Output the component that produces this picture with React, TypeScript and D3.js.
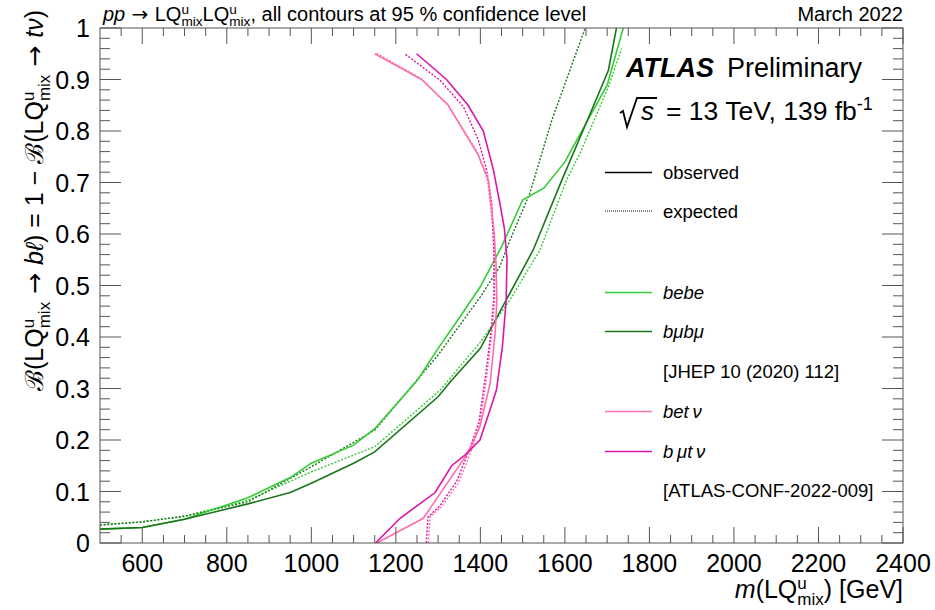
import React from 'react';
import * as d3 from 'd3';

const W = 935;
const H = 610;
const FONT = '"Liberation Sans", Arial, Helvetica, sans-serif';
const ARROW_FONT = '"DejaVu Sans", sans-serif';

// Plot frame in pixels
const X0 = 100;
const X1 = 903;
const Y0 = 543;
const Y1 = 28;

// Axis definitions
const massDomain: [number, number] = [500, 2400];
const brDomain: [number, number] = [0, 1];
const massMajorTicks = [600, 800, 1000, 1200, 1400, 1600, 1800, 2000, 2200, 2400];
const massMinorStep = 50;
const brMajorTicks = [0, 0.1, 0.2, 0.3, 0.4, 0.5, 0.6, 0.7, 0.8, 0.9, 1];
const brTickLabels = ['0', '0.1', '0.2', '0.3', '0.4', '0.5', '0.6', '0.7', '0.8', '0.9', '1'];
const brMinorStep = 0.02;

type Pt = [number, number];

// 95% CL exclusion contours: [mass (GeV), B(LQ -> b l)]
const bebeObserved: Pt[] = [
  [500, 0.027], [600, 0.030], [700, 0.046], [750, 0.060], [850, 0.088], [950, 0.127],
  [1000, 0.155], [1100, 0.190], [1150, 0.222], [1250, 0.315], [1300, 0.378], [1350, 0.437],
  [1400, 0.498], [1450, 0.575], [1500, 0.666], [1550, 0.689], [1600, 0.740], [1650, 0.815],
  [1700, 0.889], [1738, 1.0],
];
const bebeExpected: Pt[] = [
  [500, 0.035], [600, 0.041], [700, 0.052], [850, 0.083], [1000, 0.138], [1150, 0.187],
  [1305, 0.297], [1400, 0.390], [1470, 0.472], [1541, 0.569], [1604, 0.705], [1636, 0.757],
  [1703, 0.886], [1734, 0.960],
];
const bmubmuObserved: Pt[] = [
  [500, 0.027], [600, 0.030], [700, 0.046], [850, 0.076], [950, 0.098], [1000, 0.116],
  [1100, 0.155], [1150, 0.177], [1300, 0.284], [1330, 0.314], [1400, 0.378], [1460, 0.470],
  [1525, 0.569], [1593, 0.705], [1660, 0.834], [1703, 0.918], [1722, 1.0],
];
const bmubmuExpected: Pt[] = [
  [500, 0.035], [600, 0.041], [700, 0.052], [850, 0.080], [1000, 0.148], [1150, 0.219],
  [1300, 0.365], [1400, 0.478], [1446, 0.537], [1470, 0.588], [1517, 0.679], [1569, 0.821],
  [1648, 1.0],
];
const betnuObserved: Pt[] = [
  [1155, 0], [1265, 0.048], [1372, 0.177], [1399, 0.226], [1423, 0.310], [1435, 0.407],
  [1439, 0.472], [1437, 0.544], [1432, 0.608], [1419, 0.705], [1395, 0.753], [1324, 0.850],
  [1261, 0.900], [1150, 0.950],
];
const betnuExpected: Pt[] = [
  [1277, 0], [1281, 0.051], [1308, 0.070], [1348, 0.116], [1379, 0.180], [1399, 0.232],
  [1415, 0.323], [1427, 0.407], [1434, 0.472], [1434, 0.540], [1430, 0.610], [1417, 0.705],
  [1392, 0.760], [1322, 0.852], [1259, 0.902], [1152, 0.952],
];
const bmutnuObserved: Pt[] = [
  [1152, 0], [1210, 0.048], [1293, 0.098], [1332, 0.150], [1364, 0.171], [1399, 0.200],
  [1419, 0.249], [1438, 0.297], [1452, 0.380], [1461, 0.470], [1463, 0.550], [1457, 0.610],
  [1446, 0.660], [1431, 0.724], [1407, 0.800], [1371, 0.850], [1320, 0.900], [1249, 0.950],
];
const bmutnuExpected: Pt[] = [
  [1272, 0], [1276, 0.050], [1304, 0.072], [1344, 0.120], [1376, 0.186], [1397, 0.236],
  [1413, 0.330], [1425, 0.410], [1432, 0.480], [1432, 0.560], [1427, 0.660], [1415, 0.724],
  [1395, 0.783], [1360, 0.847], [1304, 0.899], [1221, 0.950],
];

const GREEN_LIGHT = '#34cc34';
const GREEN_DARK = '#1a761a';
const PINK = '#ff6fae';
const MAGENTA = '#dc14aa';
const DOT = '2,1.6';

const curves = [
  { id: 'bebe-exp', data: bebeExpected, color: GREEN_LIGHT, dotted: true },
  { id: 'bmubmu-exp', data: bmubmuExpected, color: GREEN_DARK, dotted: true },
  { id: 'bebe-obs', data: bebeObserved, color: GREEN_LIGHT, dotted: false },
  { id: 'bmubmu-obs', data: bmubmuObserved, color: GREEN_DARK, dotted: false },
  { id: 'betnu-exp', data: betnuExpected, color: PINK, dotted: true },
  { id: 'bmutnu-exp', data: bmutnuExpected, color: MAGENTA, dotted: true },
  { id: 'betnu-obs', data: betnuObserved, color: PINK, dotted: false },
  { id: 'bmutnu-obs', data: bmutnuObserved, color: MAGENTA, dotted: false },
];

// "LQ" with a stacked superscript "u" and subscript "mix".
// `lead` shifts the baseline before "LQ" (to undo a previous subscript),
// `after` is text set back on the normal baseline.
function LQ({ size, lead = 0, after }: { size: number; lead?: number; after?: string }) {
  const small = size * 0.68;
  const up = size * 0.36;
  const down = size * 0.26;
  const uWidth = small * 0.556;
  return (
    <>
      <tspan dy={lead}>LQ</tspan>
      <tspan fontSize={small} dy={-up}>u</tspan>
      <tspan fontSize={small} dx={-uWidth} dy={up + down}>mix</tspan>
      {after !== undefined && (
        <tspan fontSize={size} dy={-down}>
          {after}
        </tspan>
      )}
    </>
  );
}

// Arrow glyph taken from a font with a full-width arrow
function Arrow({ dy = 0 }: { dy?: number }) {
  return (
    <tspan fontFamily={ARROW_FONT} dy={dy}>
      {' \u2192 '}
    </tspan>
  );
}

export default function App() {
  const x = d3.scaleLinear().domain(massDomain).range([X0, X1]);
  const y = d3.scaleLinear().domain(brDomain).range([Y0, Y1]);
  const line = d3
    .line<Pt>()
    .x((d) => x(d[0]))
    .y((d) => y(d[1]));

  const massMinor = d3
    .range(massDomain[0] + massMinorStep, massDomain[1], massMinorStep)
    .filter((m) => !massMajorTicks.includes(m));
  const brMinor = d3
    .range(1, 50)
    .map((i) => i * brMinorStep)
    .filter((b) => Math.abs(b * 10 - Math.round(b * 10)) > 1e-6);

  const tickColor = '#555';

  const legendEntries = [
    { label: 'observed', color: '#000', dotted: false, italic: false, yc: 172.5 },
    { label: 'expected', color: '#000', dotted: true, italic: false, yc: 211 },
    { label: 'bebe', color: GREEN_LIGHT, dotted: false, italic: true, yc: 292.5 },
    { label: 'b\u03BCb\u03BC', color: GREEN_DARK, dotted: false, italic: true, yc: 331.5 },
    { label: '[JHEP 10 (2020) 112]', color: null, dotted: false, italic: false, yc: 371.5 },
    { label: 'bet\u2009\u03BD', color: PINK, dotted: false, italic: true, yc: 411.5 },
    { label: 'b\u2009\u03BCt\u2009\u03BD', color: MAGENTA, dotted: false, italic: true, yc: 451.5 },
    { label: '[ATLAS-CONF-2022-009]', color: null, dotted: false, italic: false, yc: 490.5 },
  ];

  const sub25 = 25 * 0.26;

  return (
    <svg
      width={W}
      height={H}
      viewBox={`0 0 ${W} ${H}`}
      style={{ position: 'absolute', left: 0, top: 0, background: '#fff' }}
      fontFamily={FONT}
    >
      <rect x={0} y={0} width={W} height={H} fill="#fff" />
      <defs>
        <clipPath id="plot-area">
          <rect x={X0} y={Y1} width={X1 - X0} height={Y0 - Y1} />
        </clipPath>
      </defs>

      {/* contours */}
      <g clipPath="url(#plot-area)" fill="none">
        {curves.map((c) => (
          <path
            key={c.id}
            d={line(c.data) ?? ''}
            stroke={c.color}
            strokeWidth={c.dotted ? 1.4 : 1.6}
            strokeDasharray={c.dotted ? DOT : undefined}
          />
        ))}
      </g>

      {/* frame */}
      <rect x={X0} y={Y1} width={X1 - X0} height={Y0 - Y1} fill="none" stroke={tickColor} strokeWidth={1} />

      {/* ticks on all four sides */}
      <g stroke={tickColor} strokeWidth={1}>
        {massMajorTicks.map((m) => (
          <g key={`xM${m}`}>
            <line x1={x(m)} x2={x(m)} y1={Y0} y2={Y0 - 16} />
            <line x1={x(m)} x2={x(m)} y1={Y1} y2={Y1 + 16} />
          </g>
        ))}
        {massMinor.map((m) => (
          <g key={`xm${m}`}>
            <line x1={x(m)} x2={x(m)} y1={Y0} y2={Y0 - 8} />
            <line x1={x(m)} x2={x(m)} y1={Y1} y2={Y1 + 8} />
          </g>
        ))}
        {brMajorTicks.map((b) => (
          <g key={`yM${b}`}>
            <line x1={X0} x2={X0 + 21} y1={y(b)} y2={y(b)} />
            <line x1={X1} x2={X1 - 21} y1={y(b)} y2={y(b)} />
          </g>
        ))}
        {brMinor.map((b) => (
          <g key={`ym${b}`}>
            <line x1={X0} x2={X0 + 10} y1={y(b)} y2={y(b)} />
            <line x1={X1} x2={X1 - 10} y1={y(b)} y2={y(b)} />
          </g>
        ))}
      </g>

      {/* tick labels */}
      <g fontSize={25} fill="#000">
        {massMajorTicks.map((m) => (
          <text key={`xl${m}`} x={x(m)} y={572} textAnchor="middle">
            {m}
          </text>
        ))}
        {brMajorTicks.map((b, i) => (
          <text key={`yl${b}`} x={90} y={y(b) + 9} textAnchor="end">
            {brTickLabels[i]}
          </text>
        ))}
      </g>

      {/* axis titles */}
      <text x={X1} y={598} textAnchor="end" fontSize={25}>
        <tspan fontStyle="italic">m</tspan>
        <tspan>(</tspan>
        <LQ size={25} after=") [GeV]" />
      </text>
      <text transform="translate(43,10) rotate(-90)" textAnchor="end" fontSize={25}>
        <tspan>{'\u212C('}</tspan>
        <LQ size={25} />
        <Arrow dy={-sub25} />
        <tspan fontStyle="italic">{'b\u2113'}</tspan>
        <tspan>{') = 1 \u2212 \u212C('}</tspan>
        <LQ size={25} />
        <Arrow dy={-sub25} />
        <tspan fontStyle="italic">{'t\u03BD'}</tspan>
        <tspan>)</tspan>
      </text>

      {/* header */}
      <text x={103} y={21} fontSize={20}>
        <tspan fontStyle="italic">pp</tspan>
        <Arrow />
        <LQ size={20} />
        <LQ size={20} lead={-20 * 0.26} after=", all contours at 95 % confidence level" />
      </text>
      <text x={X1} y={21} fontSize={20} textAnchor="end">
        March 2022
      </text>

      {/* experiment label */}
      <text x={626} y={77} fontSize={27} fontWeight="bold" fontStyle="italic">
        ATLAS
      </text>
      <text x={727} y={77} fontSize={27}>
        Preliminary
      </text>
      <path d="M620,113 L623,111 L627,127 L637,98 L657,98" fill="none" stroke="#000" strokeWidth={1.8} />
      <text x={641} y={120} fontSize={26} fontStyle="italic">
        s
      </text>
      <text x={666} y={120} fontSize={26.5}>
        <tspan>= 13 TeV, 139 fb</tspan>
        <tspan fontSize={18} dy={-10}>-1</tspan>
      </text>

      {/* legend */}
      <g fontSize={18.5}>
        {legendEntries.map((e) => (
          <g key={e.label}>
            {e.color && (
              <line
                x1={605}
                x2={652}
                y1={e.yc}
                y2={e.yc}
                stroke={e.color}
                strokeWidth={e.dotted ? 1 : 1.4}
                strokeDasharray={e.dotted ? '1,1' : undefined}
              />
            )}
            <text x={663} y={e.yc + 6.5} fontStyle={e.italic ? 'italic' : 'normal'}>
              {e.label}
            </text>
          </g>
        ))}
      </g>
    </svg>
  );
}
